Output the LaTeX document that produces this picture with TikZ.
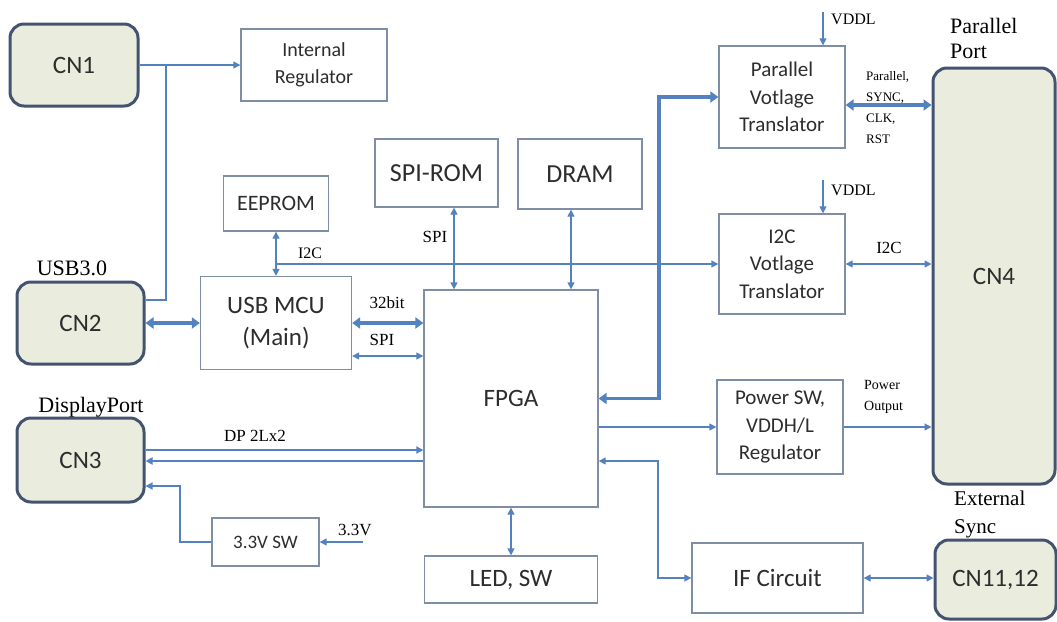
\documentclass[tikz,border=0pt]{standalone}
\usepackage{fontspec}
\setmainfont{Carlito}
\newfontfamily\serifl{Liberation Serif}
\usetikzlibrary{arrows.meta}
\definecolor{lc}{RGB}{84,130,190}
\definecolor{boxc}{RGB}{128,142,165}
\definecolor{cnb}{RGB}{68,84,112}
\definecolor{cnf}{RGB}{234,236,222}
\definecolor{txt}{RGB}{45,45,45}
\newcommand{\myfs}[2]{\fontsize{#1}{#2}\selectfont}
\begin{document}
\begin{tikzpicture}[x=1pt,y=-1pt,
 box/.style={draw=boxc,line width=1.3pt,fill=white,align=center,inner sep=0pt,text=txt},
 cnbox/.style={draw=cnb,line width=3pt,fill=cnf,rounded corners=14pt,align=center,inner sep=0pt,text=txt,font=\myfs{25}{30}},
 conn/.style={draw=lc,line width=1.3pt},
 dpl/.style={draw=lc,line width=2pt},
 bus/.style={draw=lc,line width=3.5pt},
 ar/.style={-{Triangle[length=7pt,width=7pt]}},
 bi/.style={{Triangle[length=7pt,width=7pt]}-{Triangle[length=7pt,width=7pt]}},
 busbi/.style={{Triangle[length=8pt,width=11pt]}-{Triangle[length=8pt,width=11pt]}},
 lab/.style={inner sep=0pt,text=black,font=\serifl\myfs{17}{20}},
]
\useasboundingbox[fill=white] (0,0) rectangle (1057,621);

% connectors (nodes)
\node[cnbox,minimum width=128,minimum height=82] (cn1) at (74,65) {CN1};
\node[cnbox,minimum width=127,minimum height=82] (cn2) at (80.5,323) {CN2};
\node[cnbox,minimum width=127,minimum height=84] (cn3) at (80.5,460) {CN3};
\node[cnbox,minimum width=122,minimum height=416] (cn4) at (994,276) {CN4};
\node[cnbox,minimum width=121,minimum height=79] (cn1112) at (995.5,579.5) {CN11,12};

% boxes
\node[box,font=\myfs{20}{27},minimum width=146,minimum height=72] (intreg) at (314,65) {Internal\\Regulator};
\node[box,font=\myfs{22}{26},minimum width=105,minimum height=55] (eeprom) at (276,203.5) {EEPROM};
\node[box,font=\myfs{26}{30},minimum width=123,minimum height=68] (spirom) at (436.5,173) {SPI-ROM};
\node[box,font=\myfs{26}{30},minimum width=124,minimum height=70] (dram) at (580,174) {DRAM};
\node[box,font=\myfs{25}{32},minimum width=151,minimum height=93] (usb) at (276,323) {USB MCU\\(Main)};
\node[box,font=\myfs{25}{30},minimum width=174,minimum height=217] (fpga) at (511,398.5) {FPGA};
\node[box,font=\myfs{21}{27.5},minimum width=126,minimum height=102] (parvt) at (782,97) {Parallel\\Votlage\\Translator};
\node[box,font=\myfs{21}{27.5},minimum width=126,minimum height=100] (i2cvt) at (782,264) {I2C\\Votlage\\Translator};
\node[box,font=\myfs{21}{27.5},minimum width=126,minimum height=94] (pwr) at (780,427) {Power SW,\\VDDH/L\\Regulator};
\node[box,font=\myfs{25}{30},minimum width=173,minimum height=47] (led) at (511,579.5) {LED, SW};
\node[box,font=\myfs{25}{30},minimum width=171,minimum height=70] (ifc) at (777.5,578) {IF Circuit};
\node[box,font=\myfs{19}{24},minimum width=107,minimum height=48] (sw33) at (265.5,542) {3.3V SW};

% helper coordinates
\coordinate (j1) at (166,65);
\coordinate (ji2c) at (276,264);
\coordinate (xspi) at (454,0);
\coordinate (xdram) at (571,0);
\coordinate (yspi) at (0,356);
\coordinate (xbus) at (659,0);
\coordinate (ypar) at (0,105);
\coordinate (ifx) at (658,461);
\coordinate (ydp1) at (0,450);
\coordinate (ydp2) at (0,461);
\coordinate (k) at (180,486);
\coordinate (v33) at (363,542);
\coordinate (vddl1) at (823,12);
\coordinate (vddl2) at (823,180);

% connections
\draw[conn,ar] (cn1.east) -- (intreg.west);
\draw[conn] (j1) |- ([yshift=23pt]cn2.east);
\draw[conn,bi] (eeprom.south) -- (usb.north);
\draw[conn,ar] (ji2c) -- (i2cvt.west);
\draw[conn,bi] (spirom.south -| xspi) -- (fpga.north -| xspi);
\draw[conn,bi] (dram.south -| xdram) -- (fpga.north -| xdram);
\draw[bus,busbi] (cn2.east) -- (usb.west);
\draw[bus,busbi] (usb.east) -- (fpga.west |- usb.east);
\draw[conn,bi] (usb.east |- yspi) -- (fpga.west |- yspi);
\draw[bus,busbi] (fpga.east) -| (xbus |- parvt.west) -- (parvt.west);
\draw[bus,busbi] (parvt.east |- ypar) -- (cn4.west |- ypar);
\draw[conn,ar] (vddl1) -- (parvt.north -| vddl1);
\draw[conn,ar] (vddl2) -- (i2cvt.north -| vddl2);
\draw[conn,bi] (i2cvt.east) -- (cn4.west |- i2cvt.east);
\draw[conn,ar] (fpga.east |- pwr.west) -- (pwr.west);
\draw[conn,ar] (pwr.east) -- (cn4.west |- pwr.east);
\draw[conn,bi] (fpga.east |- ifx) -- (ifx) |- (ifc.west);
\draw[conn,bi] (ifc.east) -- (cn1112.west |- ifc.east);
\draw[conn,bi] (fpga.south) -- (led.north);
\draw[dpl,ar] (cn3.east |- ydp1) -- (fpga.west |- ydp1);
\draw[dpl,ar] (fpga.west |- ydp2) -- (cn3.east |- ydp2);
\draw[conn,ar] (sw33.west) -| (k) -- (cn3.east |- k);
\draw[conn,ar] (v33) -- (sw33.east);

% labels
\node[lab,font=\serifl\myfs{22}{26}] (lusb) at (72,268) {USB3.0};
\node[lab,font=\serifl\myfs{22}{26}] (ldp) at (91,407) {DisplayPort};
\node[lab] (ldp2) at (255,436) {DP 2Lx2};
\node[lab] (l32) at (387,303) {32bit};
\node[lab] (lspi1) at (382,340) {SPI};
\node[lab,font=\serifl\myfs{16}{20}] (li2c1) at (310,253) {I2C};
\node[lab] (lspi2) at (435,237) {SPI};
\node[lab,font=\serifl\myfs{16}{20},anchor=west] (lvddl1) at (831,19) {VDDL};
\node[lab,font=\serifl\myfs{16}{20},anchor=west] (lvddl2) at (831,190) {VDDL};
\node[lab,font=\serifl\myfs{22}{25},align=left,anchor=west] (lport) at (950,38) {Parallel\\Port};
\node[lab,font=\serifl\myfs{13}{21},align=left,anchor=west] (lsig) at (866,108) {Parallel,\\SYNC,\\CLK,\\RST};
\node[lab] (li2c2) at (889,248) {I2C};
\node[lab,font=\serifl\myfs{14}{21},align=left,anchor=west] (lpo) at (864,397) {Power\\Output};
\node[lab,font=\serifl\myfs{21}{28},align=left,anchor=west] (lext) at (954,514) {External\\Sync};
\node[lab] (l33) at (355,530) {3.3V};
\end{tikzpicture}
\end{document}
